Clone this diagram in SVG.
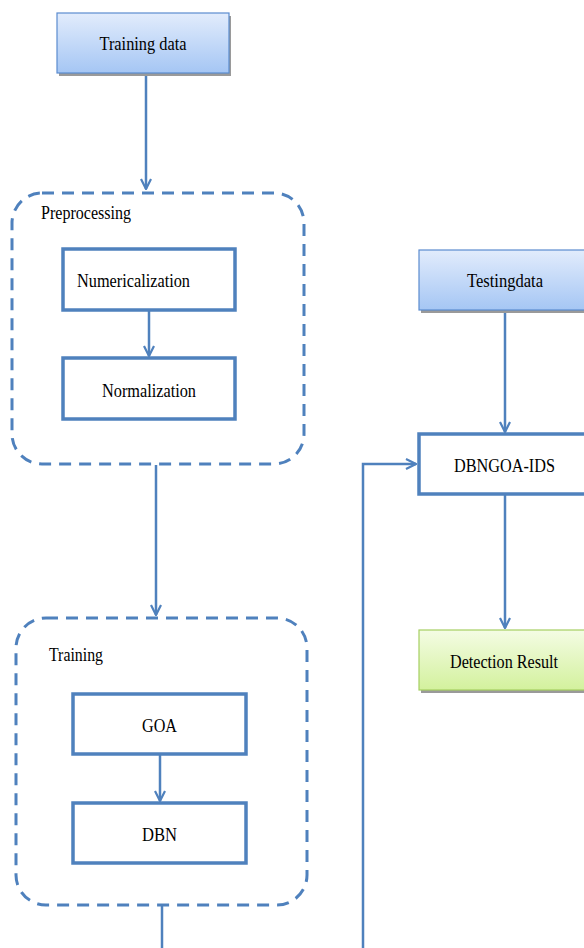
<svg xmlns="http://www.w3.org/2000/svg" width="584" height="948" viewBox="0 0 584 948">
<defs>
<linearGradient id="gBlue" x1="0" y1="0" x2="0" y2="1">
<stop offset="0" stop-color="#e2ecfc"/><stop offset="1" stop-color="#a5c6f4"/>
</linearGradient>
<linearGradient id="gGreen" x1="0" y1="0" x2="0" y2="1">
<stop offset="0" stop-color="#f4fce4"/><stop offset="1" stop-color="#d3f19d"/>
</linearGradient>
<marker id="arr" viewBox="0 0 12 12" refX="11" refY="6" markerWidth="12" markerHeight="12" markerUnits="userSpaceOnUse" orient="auto">
<path d="M1,1 L11,6 L1,11" fill="none" stroke="#4f81bd" stroke-width="2.2"/>
</marker>
</defs>
<style>
.t{font-family:"Liberation Serif","Times New Roman",serif;font-size:18px;fill:#000;}
.c{text-anchor:middle;}
.box{fill:#fff;stroke:#4f81bd;stroke-width:3.5;}
.dash{fill:none;stroke:#4f81bd;stroke-width:3;stroke-dasharray:12 8;}
.sh{fill:#9a9a9a;}
.conn{fill:none;stroke:#4f81bd;stroke-width:2.5;}
</style>
<rect width="584" height="948" fill="#fff"/>
<g id="connectors">
<path class="conn" d="M146,73 V189" marker-end="url(#arr)"/>
<path class="conn" d="M149,310 V356" marker-end="url(#arr)"/>
<path class="conn" d="M156,465 V615" marker-end="url(#arr)"/>
<path class="conn" d="M160,755 V801" marker-end="url(#arr)"/>
<path class="conn" d="M162,905 V948"/>
<path class="conn" d="M363,948 V464 H416" marker-end="url(#arr)"/>
<path class="conn" d="M505,311 V432" marker-end="url(#arr)"/>
<path class="conn" d="M505,495 V628" marker-end="url(#arr)"/>
</g>
<g id="training-data">
<rect class="sh" x="59" y="16" width="172" height="60"/>
<rect x="57" y="13" width="172" height="60" fill="url(#gBlue)" stroke="#5b8ccf" stroke-width="1.2"/>
<text class="t c" x="143" y="50" textLength="87" lengthAdjust="spacingAndGlyphs">Training data</text>
</g>
<g id="preprocessing">
<rect class="dash" x="12" y="193" width="292" height="271" rx="30"/>
<text class="t" x="41" y="219" textLength="90" lengthAdjust="spacingAndGlyphs">Preprocessing</text>
</g>
<g id="numericalization">
<rect class="box" x="63" y="249" width="172" height="61"/>
<text class="t" x="77" y="287" textLength="113" lengthAdjust="spacingAndGlyphs">Numericalization</text>
</g>
<g id="normalization">
<rect class="box" x="63" y="358" width="172" height="61"/>
<text class="t" x="102" y="397" textLength="94" lengthAdjust="spacingAndGlyphs">Normalization</text>
</g>
<g id="training">
<rect class="dash" x="16" y="618" width="291" height="287" rx="30"/>
<text class="t" x="49" y="661" textLength="54" lengthAdjust="spacingAndGlyphs">Training</text>
</g>
<g id="goa">
<rect class="box" x="73" y="694" width="173" height="60"/>
<text class="t" x="142" y="732" textLength="35" lengthAdjust="spacingAndGlyphs">GOA</text>
</g>
<g id="dbn">
<rect class="box" x="73" y="803" width="173" height="60"/>
<text class="t" x="142" y="841" textLength="35" lengthAdjust="spacingAndGlyphs">DBN</text>
</g>
<g id="testing-data">
<rect class="sh" x="421" y="253" width="172" height="60"/>
<rect x="419" y="250" width="172" height="60" fill="url(#gBlue)" stroke="#5b8ccf" stroke-width="1.2"/>
<text class="t" x="467" y="287" textLength="76" lengthAdjust="spacingAndGlyphs">Testingdata</text>
</g>
<g id="dbngoa-ids">
<rect class="box" x="419" y="434" width="172" height="60"/>
<text class="t" x="454" y="472" textLength="101" lengthAdjust="spacingAndGlyphs">DBNGOA-IDS</text>
</g>
<g id="detection-result">
<rect class="sh" x="421" y="633" width="172" height="60"/>
<rect x="419" y="630" width="172" height="60" fill="url(#gGreen)" stroke="#a6cf62" stroke-width="1.2"/>
<text class="t" x="450" y="668" textLength="108" lengthAdjust="spacingAndGlyphs">Detection Result</text>
</g>
</svg>
